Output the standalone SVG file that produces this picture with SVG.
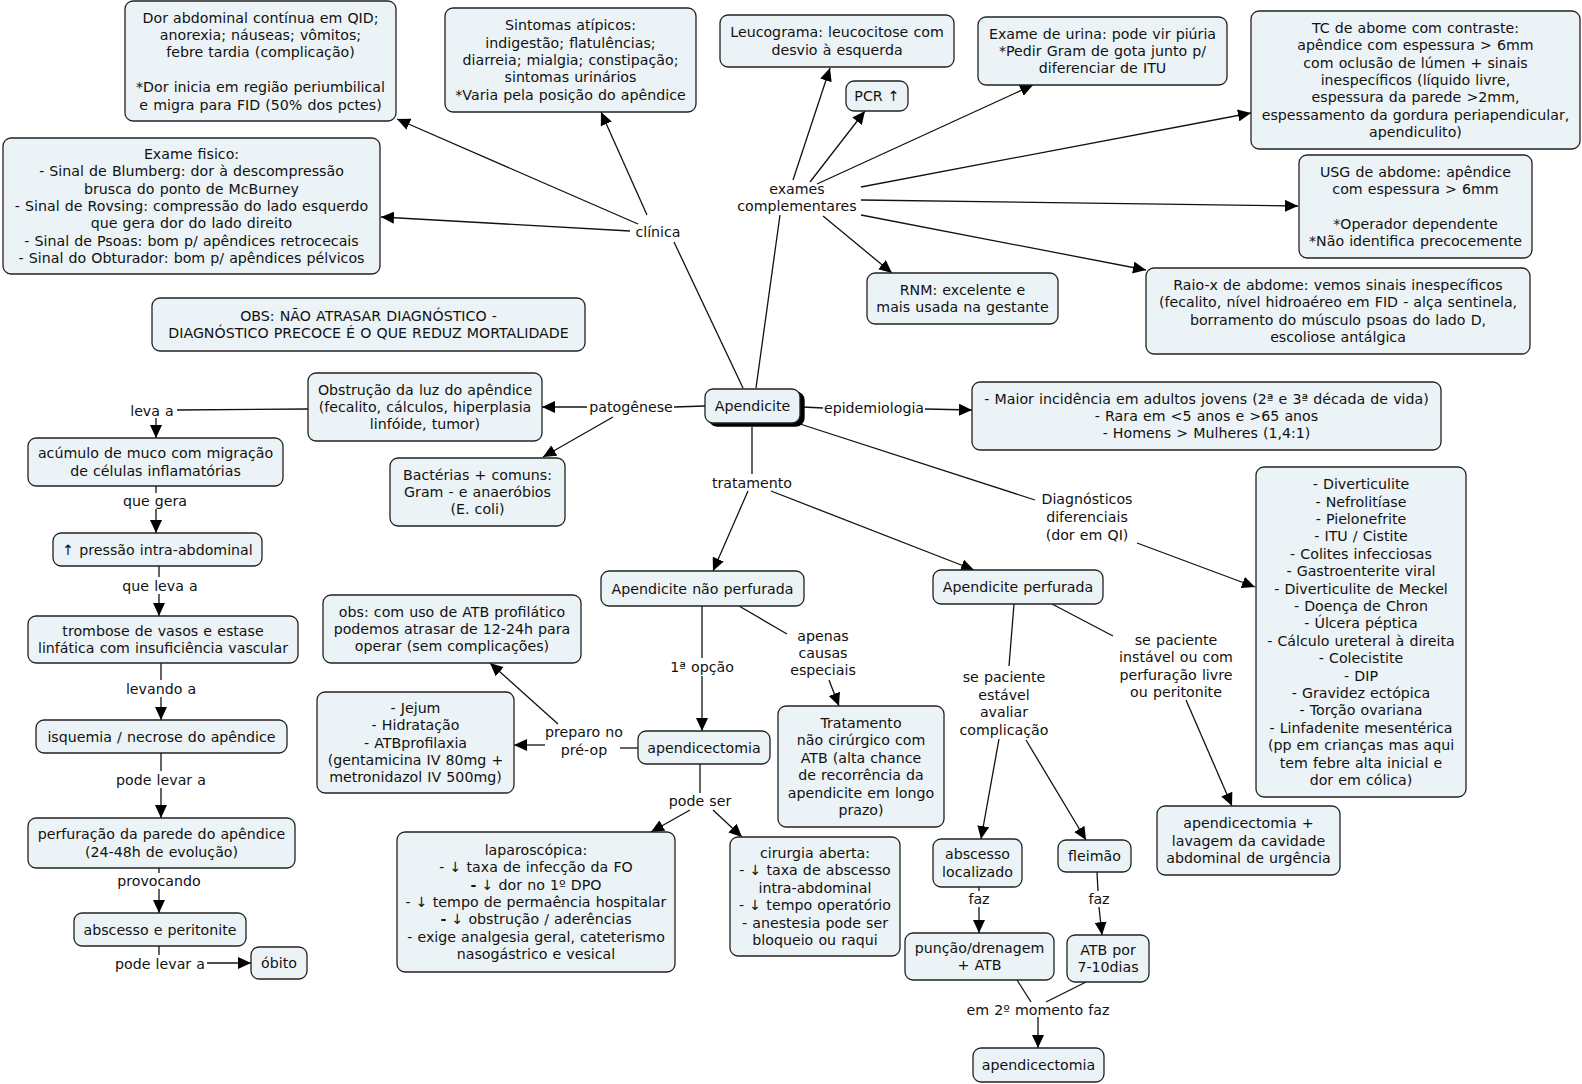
<svg xmlns="http://www.w3.org/2000/svg" width="1582" height="1084" viewBox="0 0 1582 1084">
<style>
.bg{fill:#ffffff}
.n rect{fill:#ecf3f6;stroke:#222;stroke-width:1.3}
text{font-family:"DejaVu Sans",Verdana,"Liberation Sans",sans-serif;font-size:14.2px;word-spacing:0.6px;fill:#111;text-anchor:middle}
.c line{stroke:#111;stroke-width:1.3;fill:none}
.c line.a{marker-end:url(#ah)}
.b{font-weight:bold}
</style>
<defs>
<marker id="ah" markerWidth="14" markerHeight="12" refX="13" refY="6" orient="auto" markerUnits="userSpaceOnUse">
<path d="M0,0 L13,6 L0,12 z" fill="#000"/>
</marker>
</defs>
<rect class="bg" x="0" y="0" width="1582" height="1084"/>

<g id="connectors" class="c">
<line x1="743" y1="388" x2="674" y2="242"/>
<line class="a" x1="638" y1="224" x2="397" y2="119"/>
<line class="a" x1="647" y1="215" x2="601" y2="112"/>
<line class="a" x1="630" y1="231" x2="381" y2="217"/>
<line x1="756" y1="388" x2="780" y2="215"/>
<line class="a" x1="793" y1="180" x2="830" y2="68"/>
<line class="a" x1="810" y1="182" x2="865" y2="111"/>
<line class="a" x1="817" y1="184" x2="1033" y2="85"/>
<line class="a" x1="861" y1="187" x2="1251" y2="113"/>
<line class="a" x1="861" y1="200" x2="1298" y2="206"/>
<line class="a" x1="823" y1="216" x2="892" y2="273"/>
<line class="a" x1="861" y1="215" x2="1146" y2="270"/>
<line x1="705" y1="406" x2="674" y2="407"/>
<line class="a" x1="587" y1="407" x2="542" y2="407"/>
<line class="a" x1="613" y1="417" x2="543" y2="457"/>
<line x1="803" y1="407" x2="823" y2="408"/>
<line class="a" x1="925" y1="409" x2="972" y2="410"/>
<line x1="752" y1="427" x2="752" y2="474"/>
<line class="a" x1="748" y1="491" x2="713" y2="571"/>
<line class="a" x1="771" y1="491" x2="974" y2="570"/>
<line x1="800" y1="424" x2="1035" y2="500"/>
<line class="a" x1="1137" y1="543" x2="1255" y2="587"/>
<line x1="308" y1="409" x2="177" y2="410"/>
<line class="a" x1="156" y1="418" x2="156" y2="438"/>
<line x1="156" y1="486" x2="156" y2="493"/>
<line class="a" x1="156" y1="509" x2="156" y2="533"/>
<line x1="159" y1="566" x2="159" y2="577"/>
<line class="a" x1="159" y1="594" x2="159" y2="616"/>
<line x1="161" y1="663" x2="161" y2="680"/>
<line class="a" x1="161" y1="697" x2="161" y2="720"/>
<line x1="161" y1="753" x2="161" y2="771"/>
<line class="a" x1="161" y1="788" x2="161" y2="818"/>
<line x1="159" y1="868" x2="159" y2="873"/>
<line class="a" x1="159" y1="889" x2="159" y2="913"/>
<line x1="159" y1="946" x2="159" y2="955"/>
<line class="a" x1="207" y1="963" x2="251" y2="963"/>
<line x1="702" y1="606" x2="702" y2="658"/>
<line class="a" x1="702" y1="676" x2="702" y2="731"/>
<line x1="739" y1="606" x2="787" y2="634"/>
<line class="a" x1="829" y1="680" x2="839" y2="706"/>
<line x1="638" y1="748" x2="620" y2="748"/>
<line class="a" x1="545" y1="745" x2="514" y2="745"/>
<line class="a" x1="558" y1="724" x2="490" y2="663"/>
<line x1="700" y1="764" x2="700" y2="793"/>
<line class="a" x1="690" y1="810" x2="651" y2="832"/>
<line class="a" x1="713" y1="810" x2="742" y2="837"/>
<line x1="1014" y1="604" x2="1009" y2="666"/>
<line class="a" x1="999" y1="739" x2="981" y2="839"/>
<line class="a" x1="1026" y1="740" x2="1086" y2="840"/>
<line x1="1052" y1="604" x2="1113" y2="636"/>
<line class="a" x1="1186" y1="700" x2="1232" y2="806"/>
<line x1="979" y1="887" x2="979" y2="891"/>
<line class="a" x1="979" y1="907" x2="979" y2="933"/>
<line x1="1097" y1="872" x2="1098" y2="891"/>
<line class="a" x1="1099" y1="907" x2="1102" y2="935"/>
<line x1="1017" y1="980" x2="1031" y2="1002"/>
<line x1="1086" y1="982" x2="1046" y2="1002"/>
<line class="a" x1="1038" y1="1017" x2="1038" y2="1048"/>
</g>

<g id="labels">
<text x="658" y="237">clínica</text>
<text x="797" y="194">exames</text>
<text x="797" y="211">complementares</text>
<text x="631" y="411.5">patogênese</text>
<text x="874" y="413">epidemiologia</text>
<text x="752" y="488">tratamento</text>
<text x="1087" y="504">Diagnósticos</text>
<text x="1087" y="522">diferenciais</text>
<text x="1087" y="540">(dor em QI)</text>
<text x="152" y="416">leva a</text>
<text x="155" y="506">que gera</text>
<text x="160" y="591">que leva a</text>
<text x="161" y="694">levando a</text>
<text x="161" y="785">pode levar a</text>
<text x="159" y="886">provocando</text>
<text x="160" y="969">pode levar a</text>
<text x="702" y="672">1ª opção</text>
<text x="823" y="641">apenas</text>
<text x="823" y="658">causas</text>
<text x="823" y="675">especiais</text>
<text x="584" y="737">preparo no</text>
<text x="584" y="755">pré-op</text>
<text x="700" y="806">pode ser</text>
<text x="1004" y="682">se paciente</text>
<text x="1004" y="700">estável</text>
<text x="1004" y="717">avaliar</text>
<text x="1004" y="735">complicação</text>
<text x="1176" y="645">se paciente</text>
<text x="1176" y="662">instável ou com</text>
<text x="1176" y="680">perfuração livre</text>
<text x="1176" y="697">ou peritonite</text>
<text x="979" y="904">faz</text>
<text x="1099" y="904">faz</text>
<text x="1038" y="1015">em 2º momento faz</text>
</g>

<g id="n-dor" class="n"><rect x="125" y="1" width="271" height="120" rx="8"/>
<text><tspan x="260.5" y="22.5">Dor abdominal contínua em QID;</tspan><tspan x="260.5" y="39.9">anorexia; náuseas; vômitos;</tspan><tspan x="260.5" y="57.3">febre tardia (complicação)</tspan><tspan x="260.5" y="92.1">*Dor inicia em região periumbilical</tspan><tspan x="260.5" y="109.5">e migra para FID (50% dos pctes)</tspan></text></g>

<g id="n-sintomas" class="n"><rect x="445" y="8" width="251" height="104" rx="8"/>
<text><tspan x="570.5" y="30.2">Sintomas atípicos:</tspan><tspan x="570.5" y="47.6">indigestão; flatulências;</tspan><tspan x="570.5" y="65">diarreia; mialgia; constipação;</tspan><tspan x="570.5" y="82.4">sintomas urinários</tspan><tspan x="570.5" y="99.8">*Varia pela posição do apêndice</tspan></text></g>

<g id="n-exame" class="n"><rect x="3" y="138" width="377" height="136" rx="8"/>
<text><tspan x="191.5" y="158.8">Exame fisico:</tspan><tspan x="191.5" y="176.2">- Sinal de Blumberg: dor à descompressão</tspan><tspan x="191.5" y="193.6">brusca do ponto de McBurney</tspan><tspan x="191.5" y="211">- Sinal de Rovsing: compressão do lado esquerdo</tspan><tspan x="191.5" y="228.4">que gera dor do lado direito</tspan><tspan x="191.5" y="245.8">- Sinal de Psoas: bom p/ apêndices retrocecais</tspan><tspan x="191.5" y="263.2">- Sinal do Obturador: bom p/ apêndices pélvicos</tspan></text></g>

<g id="n-obs" class="n"><rect x="152" y="298" width="433" height="53" rx="8"/>
<text><tspan x="368.5" y="320.8">OBS: NÃO ATRASAR DIAGNÓSTICO -</tspan><tspan x="368.5" y="338.2">DIAGNÓSTICO PRECOCE É O QUE REDUZ MORTALIDADE</tspan></text></g>

<g id="n-leuco" class="n"><rect x="720" y="15" width="234" height="52" rx="8"/>
<text><tspan x="837" y="37.3">Leucograma: leucocitose com</tspan><tspan x="837" y="54.7">desvio à esquerda</tspan></text></g>

<g id="n-pcr" class="n"><rect x="846" y="81" width="62" height="30" rx="8"/>
<text x="877" y="101">PCR ↑</text></g>

<g id="n-urina" class="n"><rect x="978" y="17" width="249" height="68" rx="8"/>
<text><tspan x="1102.5" y="38.6">Exame de urina: pode vir piúria</tspan><tspan x="1102.5" y="56">*Pedir Gram de gota junto p/</tspan><tspan x="1102.5" y="73.4">diferenciar de ITU</tspan></text></g>

<g id="n-tc" class="n"><rect x="1251" y="11" width="329" height="138" rx="8"/>
<text><tspan x="1415.5" y="32.8">TC de abome com contraste:</tspan><tspan x="1415.5" y="50.2">apêndice com espessura &gt; 6mm</tspan><tspan x="1415.5" y="67.6">com oclusão de lúmen + sinais</tspan><tspan x="1415.5" y="85">inespecíficos (líquido livre,</tspan><tspan x="1415.5" y="102.4">espessura da parede &gt;2mm,</tspan><tspan x="1415.5" y="119.8">espessamento da gordura periapendicular,</tspan><tspan x="1415.5" y="137.2">apendiculito)</tspan></text></g>

<g id="n-usg" class="n"><rect x="1299" y="155" width="233" height="103" rx="8"/>
<text><tspan x="1415.5" y="176.7">USG de abdome: apêndice</tspan><tspan x="1415.5" y="194.1">com espessura &gt; 6mm</tspan><tspan x="1415.5" y="228.9">*Operador dependente</tspan><tspan x="1415.5" y="246.3">*Não identifica precocemente</tspan></text></g>

<g id="n-rnm" class="n"><rect x="867" y="273" width="191" height="51" rx="8"/>
<text><tspan x="962.5" y="294.8">RNM: excelente e</tspan><tspan x="962.5" y="312.2">mais usada na gestante</tspan></text></g>

<g id="n-raiox" class="n"><rect x="1146" y="268" width="384" height="86" rx="8"/>
<text><tspan x="1338" y="289.9">Raio-x de abdome: vemos sinais inespecíficos</tspan><tspan x="1338" y="307.3">(fecalito, nível hidroaéreo em FID - alça sentinela,</tspan><tspan x="1338" y="324.7">borramento do músculo psoas do lado D,</tspan><tspan x="1338" y="342.1">escoliose antálgica</tspan></text></g>

<g id="n-apendicite" class="n"><rect x="709" y="392" width="95" height="34" rx="8" style="fill:#000;stroke:#000"/><rect x="705" y="389" width="95" height="34" rx="8"/>
<text x="752.5" y="411">Apendicite</text></g>

<g id="n-obstrucao" class="n"><rect x="308" y="373" width="234" height="68" rx="8"/>
<text><tspan x="425" y="394.6">Obstrução da luz do apêndice</tspan><tspan x="425" y="412">(fecalito, cálculos, hiperplasia</tspan><tspan x="425" y="429.4">linfóide, tumor)</tspan></text></g>

<g id="n-bacterias" class="n"><rect x="390" y="458" width="175" height="68" rx="8"/>
<text><tspan x="477.5" y="479.6">Bactérias + comuns:</tspan><tspan x="477.5" y="497">Gram - e anaeróbios</tspan><tspan x="477.5" y="514.4">(E. coli)</tspan></text></g>

<g id="n-epid" class="n"><rect x="972" y="382" width="469" height="68" rx="8"/>
<text><tspan x="1206.5" y="403.6">- Maior incidência em adultos jovens (2ª e 3ª década de vida)</tspan><tspan x="1206.5" y="421">- Rara em &lt;5 anos e &gt;65 anos</tspan><tspan x="1206.5" y="438.4">- Homens &gt; Mulheres (1,4:1)</tspan></text></g>

<g id="n-acumulo" class="n"><rect x="28" y="438" width="255" height="48" rx="8"/>
<text><tspan x="155.5" y="458.3">acúmulo de muco com migração</tspan><tspan x="155.5" y="475.7">de células inflamatórias</tspan></text></g>

<g id="n-pressao" class="n"><rect x="53" y="533" width="209" height="33" rx="8"/>
<text x="157.5" y="554.5">↑ pressão intra-abdominal</text></g>

<g id="n-trombose" class="n"><rect x="28" y="616" width="270" height="47" rx="8"/>
<text><tspan x="163" y="635.8">trombose de vasos e estase</tspan><tspan x="163" y="653.2">linfática com insuficiência vascular</tspan></text></g>

<g id="n-isquemia" class="n"><rect x="36" y="720" width="251" height="33" rx="8"/>
<text x="161.5" y="741.5">isquemia / necrose do apêndice</text></g>

<g id="n-perfuracao" class="n"><rect x="28" y="818" width="267" height="50" rx="8"/>
<text><tspan x="161.5" y="839.3">perfuração da parede do apêndice</tspan><tspan x="161.5" y="856.7">(24-48h de evolução)</tspan></text></g>

<g id="n-abscesso-peritonite" class="n"><rect x="74" y="913" width="172" height="33" rx="8"/>
<text x="160" y="934.5">abscesso e peritonite</text></g>

<g id="n-obito" class="n"><rect x="251" y="947" width="56" height="32" rx="8"/>
<text x="279" y="968">óbito</text></g>

<g id="n-diff" class="n"><rect x="1256" y="467" width="210" height="330" rx="8"/>
<text><tspan x="1361" y="489.1">- Diverticulite</tspan><tspan x="1361" y="506.5">- Nefrolitíase</tspan><tspan x="1361" y="523.9">- Pielonefrite</tspan><tspan x="1361" y="541.3">- ITU / Cistite</tspan><tspan x="1361" y="558.7">- Colites infecciosas</tspan><tspan x="1361" y="576.1">- Gastroenterite viral</tspan><tspan x="1361" y="593.5">- Diverticulite de Meckel</tspan><tspan x="1361" y="610.9">- Doença de Chron</tspan><tspan x="1361" y="628.3">- Úlcera péptica</tspan><tspan x="1361" y="645.7">- Cálculo ureteral à direita</tspan><tspan x="1361" y="663.1">- Colecistite</tspan><tspan x="1361" y="680.5">- DIP</tspan><tspan x="1361" y="697.9">- Gravidez ectópica</tspan><tspan x="1361" y="715.3">- Torção ovariana</tspan><tspan x="1361" y="732.7">- Linfadenite mesentérica</tspan><tspan x="1361" y="750.1">(pp em crianças mas aqui</tspan><tspan x="1361" y="767.5">tem febre alta inicial e</tspan><tspan x="1361" y="784.9">dor em cólica)</tspan></text></g>

<g id="n-naoperf" class="n"><rect x="601" y="571" width="203" height="35" rx="8"/>
<text x="702.5" y="593.5">Apendicite não perfurada</text></g>

<g id="n-perf" class="n"><rect x="933" y="570" width="170" height="34" rx="8"/>
<text x="1018" y="592">Apendicite perfurada</text></g>

<g id="n-obsatb" class="n"><rect x="323" y="595" width="258" height="68" rx="8"/>
<text><tspan x="452" y="616.6">obs: com uso de ATB profilático</tspan><tspan x="452" y="634">podemos atrasar de 12-24h para</tspan><tspan x="452" y="651.4">operar (sem complicações)</tspan></text></g>

<g id="n-jejum" class="n"><rect x="317" y="692" width="197" height="101" rx="8"/>
<text><tspan x="415.5" y="712.7">- Jejum</tspan><tspan x="415.5" y="730.1">- Hidratação</tspan><tspan x="415.5" y="747.5">- ATBprofilaxia</tspan><tspan x="415.5" y="764.9">(gentamicina IV 80mg +</tspan><tspan x="415.5" y="782.3">metronidazol IV 500mg)</tspan></text></g>

<g id="n-apendicectomia1" class="n"><rect x="638" y="731" width="132" height="33" rx="8"/>
<text x="704" y="752.5">apendicectomia</text></g>

<g id="n-naocir" class="n"><rect x="778" y="706" width="166" height="121" rx="8"/>
<text><tspan x="861" y="728">Tratamento</tspan><tspan x="861" y="745.4">não cirúrgico com</tspan><tspan x="861" y="762.8">ATB (alta chance</tspan><tspan x="861" y="780.2">de recorrência da</tspan><tspan x="861" y="797.6">apendicite em longo</tspan><tspan x="861" y="815">prazo)</tspan></text></g>

<g id="n-laparo" class="n"><rect x="397" y="832" width="278" height="140" rx="8"/>
<text><tspan x="536" y="854.8">laparoscópica:</tspan><tspan x="536" y="872.2">- ↓ taxa de infecção da FO</tspan><tspan x="536" y="889.6"><tspan class="b">-</tspan> ↓ dor no 1º DPO</tspan><tspan x="536" y="907">- ↓ tempo de permaência hospitalar</tspan><tspan x="536" y="924.4"><tspan class="b">-</tspan> ↓ obstrução / aderências</tspan><tspan x="536" y="941.8">- exige analgesia geral, cateterismo</tspan><tspan x="536" y="959.2">nasogástrico e vesical</tspan></text></g>

<g id="n-aberta" class="n"><rect x="730" y="837" width="170" height="119" rx="8"/>
<text><tspan x="815" y="858">cirurgia aberta:</tspan><tspan x="815" y="875.4">- ↓ taxa de abscesso</tspan><tspan x="815" y="892.8">intra-abdominal</tspan><tspan x="815" y="910.2">- ↓ tempo operatório</tspan><tspan x="815" y="927.6">- anestesia pode ser</tspan><tspan x="815" y="945">bloqueio ou raqui</tspan></text></g>

<g id="n-absloc" class="n"><rect x="933" y="839" width="89" height="48" rx="8"/>
<text><tspan x="977.5" y="859.3">abscesso</tspan><tspan x="977.5" y="876.7">localizado</tspan></text></g>

<g id="n-fleimao" class="n"><rect x="1058" y="840" width="73" height="32" rx="8"/>
<text x="1094.5" y="861">fleimão</text></g>

<g id="n-lavagem" class="n"><rect x="1157" y="806" width="183" height="69" rx="8"/>
<text><tspan x="1248.5" y="828.1">apendicectomia +</tspan><tspan x="1248.5" y="845.5">lavagem da cavidade</tspan><tspan x="1248.5" y="862.9">abdominal de urgência</tspan></text></g>

<g id="n-puncao" class="n"><rect x="905" y="933" width="149" height="47" rx="8"/>
<text><tspan x="979.5" y="952.8">punção/drenagem</tspan><tspan x="979.5" y="970.2">+ ATB</tspan></text></g>

<g id="n-atb" class="n"><rect x="1067" y="935" width="82" height="47" rx="8"/>
<text><tspan x="1108" y="954.8">ATB por</tspan><tspan x="1108" y="972.2">7-10dias</tspan></text></g>

<g id="n-apendicectomia2" class="n"><rect x="973" y="1048" width="131" height="34" rx="8"/>
<text x="1038.5" y="1070">apendicectomia</text></g>
</svg>
